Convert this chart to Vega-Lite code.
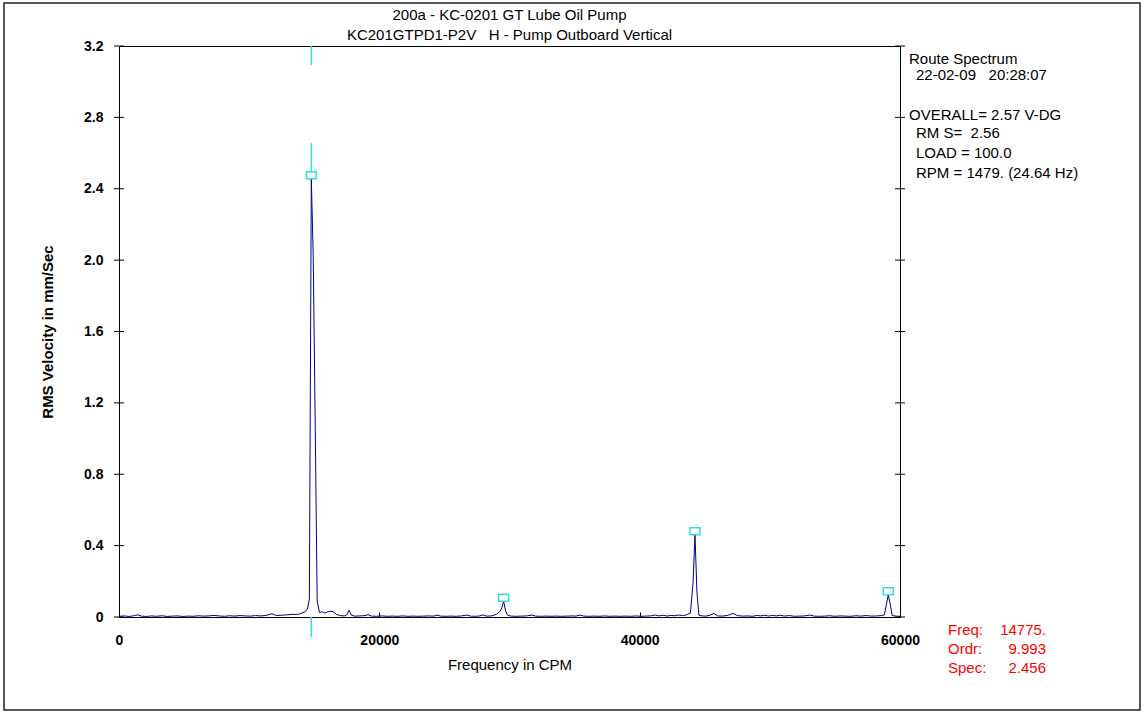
{
  "$schema": "https://vega.github.io/schema/vega-lite/v6.json",
  "width": 781,
  "height": 571,
  "autosize": {"type": "none"},
  "padding": {"left": 119, "top": 46, "right": 245, "bottom": 97},
  "background": "white",
  "config": {
    "view": {"stroke": "#000", "strokeWidth": 1},
    "font": "Liberation Sans"
  },
  "title": {
    "text": ["200a - KC-0201 GT Lube Oil Pump", "KC201GTPD1-P2V\u00a0\u00a0 H - Pump Outboard Vertical"],
    "fontSize": 15,
    "fontWeight": "normal",
    "font": "Liberation Sans",
    "lineHeight": 20,
    "offset": 6,
    "dy": 47,
    "anchor": "middle",
    "frame": "group",
    "color": "#000"
  },
  "datasets": {
    "spectrum": [
      {"f": 0, "v": 0.004}, {"f": 400, "v": 0.006}, {"f": 800, "v": 0.003}, {"f": 1200, "v": 0.008},
      {"f": 1460, "v": 0.012}, {"f": 1700, "v": 0.005}, {"f": 2100, "v": 0.003}, {"f": 2500, "v": 0.006},
      {"f": 2900, "v": 0.004}, {"f": 3300, "v": 0.007}, {"f": 3700, "v": 0.003}, {"f": 4100, "v": 0.005},
      {"f": 4500, "v": 0.006}, {"f": 4900, "v": 0.003}, {"f": 5300, "v": 0.005}, {"f": 5700, "v": 0.004},
      {"f": 6100, "v": 0.007}, {"f": 6500, "v": 0.005}, {"f": 6900, "v": 0.006}, {"f": 7300, "v": 0.009},
      {"f": 7700, "v": 0.006}, {"f": 8100, "v": 0.004}, {"f": 8500, "v": 0.007}, {"f": 8900, "v": 0.005},
      {"f": 9300, "v": 0.008}, {"f": 9700, "v": 0.006}, {"f": 10100, "v": 0.005}, {"f": 10500, "v": 0.008},
      {"f": 10900, "v": 0.006}, {"f": 11300, "v": 0.009}, {"f": 11750, "v": 0.018}, {"f": 12100, "v": 0.008},
      {"f": 12500, "v": 0.01}, {"f": 12900, "v": 0.012}, {"f": 13300, "v": 0.015}, {"f": 13700, "v": 0.014},
      {"f": 14000, "v": 0.02}, {"f": 14300, "v": 0.03}, {"f": 14475, "v": 0.045}, {"f": 14625, "v": 0.1},
      {"f": 14775, "v": 2.456}, {"f": 14925, "v": 2.01}, {"f": 15075, "v": 1.07}, {"f": 15225, "v": 0.09},
      {"f": 15400, "v": 0.025}, {"f": 15600, "v": 0.03}, {"f": 15800, "v": 0.022}, {"f": 16000, "v": 0.028},
      {"f": 16200, "v": 0.032}, {"f": 16450, "v": 0.03}, {"f": 16700, "v": 0.015}, {"f": 17000, "v": 0.008},
      {"f": 17300, "v": 0.006}, {"f": 17500, "v": 0.012}, {"f": 17670, "v": 0.038}, {"f": 17850, "v": 0.01},
      {"f": 18100, "v": 0.005}, {"f": 18500, "v": 0.006}, {"f": 18900, "v": 0.008}, {"f": 19130, "v": 0.013},
      {"f": 19400, "v": 0.005}, {"f": 19800, "v": 0.004}, {"f": 20200, "v": 0.006}, {"f": 20600, "v": 0.004},
      {"f": 21000, "v": 0.005}, {"f": 21400, "v": 0.004}, {"f": 21800, "v": 0.006}, {"f": 22200, "v": 0.004},
      {"f": 22600, "v": 0.005}, {"f": 23000, "v": 0.004}, {"f": 23400, "v": 0.005}, {"f": 23800, "v": 0.006},
      {"f": 24200, "v": 0.005}, {"f": 24430, "v": 0.011}, {"f": 24700, "v": 0.005}, {"f": 25100, "v": 0.004},
      {"f": 25500, "v": 0.005}, {"f": 25900, "v": 0.004}, {"f": 26300, "v": 0.006}, {"f": 26730, "v": 0.011},
      {"f": 27000, "v": 0.005}, {"f": 27400, "v": 0.004}, {"f": 27700, "v": 0.006}, {"f": 27960, "v": 0.012},
      {"f": 28200, "v": 0.005}, {"f": 28600, "v": 0.006}, {"f": 29000, "v": 0.015}, {"f": 29250, "v": 0.03},
      {"f": 29400, "v": 0.05}, {"f": 29550, "v": 0.088}, {"f": 29700, "v": 0.035}, {"f": 29850, "v": 0.01},
      {"f": 30100, "v": 0.005}, {"f": 30500, "v": 0.004}, {"f": 30900, "v": 0.005}, {"f": 31300, "v": 0.006},
      {"f": 31730, "v": 0.011}, {"f": 32000, "v": 0.005}, {"f": 32400, "v": 0.004}, {"f": 32800, "v": 0.005},
      {"f": 33200, "v": 0.004}, {"f": 33600, "v": 0.005}, {"f": 34000, "v": 0.004}, {"f": 34400, "v": 0.005},
      {"f": 34800, "v": 0.006}, {"f": 35100, "v": 0.005}, {"f": 35410, "v": 0.011}, {"f": 35700, "v": 0.005},
      {"f": 36100, "v": 0.004}, {"f": 36500, "v": 0.005}, {"f": 36900, "v": 0.004}, {"f": 37300, "v": 0.006},
      {"f": 37700, "v": 0.004}, {"f": 38100, "v": 0.005}, {"f": 38500, "v": 0.004}, {"f": 38900, "v": 0.005},
      {"f": 39300, "v": 0.004}, {"f": 39700, "v": 0.006}, {"f": 40100, "v": 0.004}, {"f": 40500, "v": 0.005},
      {"f": 40900, "v": 0.007}, {"f": 41200, "v": 0.011}, {"f": 41500, "v": 0.006}, {"f": 41800, "v": 0.01},
      {"f": 42100, "v": 0.005}, {"f": 42400, "v": 0.009}, {"f": 42700, "v": 0.007}, {"f": 43000, "v": 0.011},
      {"f": 43300, "v": 0.008}, {"f": 43600, "v": 0.012}, {"f": 43900, "v": 0.022}, {"f": 44100, "v": 0.19},
      {"f": 44250, "v": 0.46}, {"f": 44400, "v": 0.14}, {"f": 44550, "v": 0.01}, {"f": 44800, "v": 0.006},
      {"f": 45100, "v": 0.005}, {"f": 45400, "v": 0.01}, {"f": 45700, "v": 0.02}, {"f": 46000, "v": 0.006},
      {"f": 46400, "v": 0.005}, {"f": 46800, "v": 0.01}, {"f": 47170, "v": 0.02}, {"f": 47500, "v": 0.008},
      {"f": 47900, "v": 0.005}, {"f": 48300, "v": 0.006}, {"f": 48700, "v": 0.004}, {"f": 49000, "v": 0.009},
      {"f": 49300, "v": 0.006}, {"f": 49600, "v": 0.01}, {"f": 49900, "v": 0.005}, {"f": 50200, "v": 0.009},
      {"f": 50500, "v": 0.006}, {"f": 50800, "v": 0.01}, {"f": 51100, "v": 0.005}, {"f": 51500, "v": 0.008},
      {"f": 51900, "v": 0.004}, {"f": 52300, "v": 0.005}, {"f": 52700, "v": 0.006}, {"f": 53080, "v": 0.011},
      {"f": 53400, "v": 0.005}, {"f": 53800, "v": 0.004}, {"f": 54200, "v": 0.005}, {"f": 54600, "v": 0.007},
      {"f": 55000, "v": 0.004}, {"f": 55400, "v": 0.006}, {"f": 55800, "v": 0.005}, {"f": 56200, "v": 0.004},
      {"f": 56600, "v": 0.007}, {"f": 57000, "v": 0.005}, {"f": 57400, "v": 0.008}, {"f": 57800, "v": 0.005},
      {"f": 58200, "v": 0.006}, {"f": 58600, "v": 0.008}, {"f": 58800, "v": 0.012}, {"f": 58950, "v": 0.07},
      {"f": 59100, "v": 0.124}, {"f": 59250, "v": 0.07}, {"f": 59400, "v": 0.008}, {"f": 59700, "v": 0.005},
      {"f": 60000, "v": 0.004}
    ],
    "markers": [
      {"f": 14775, "v": 2.476},
      {"f": 29550, "v": 0.108},
      {"f": 44250, "v": 0.48},
      {"f": 59100, "v": 0.144}
    ],
    "cursor": [
      {"f": 14775, "v": 3.2, "v2": 3.093},
      {"f": 14775, "v": 2.656, "v2": 2.49},
      {"f": 14775, "v": 0, "v2": -0.112}
    ],
    "yticks": [
      {"t": 0}, {"t": 0.4}, {"t": 0.8}, {"t": 1.2}, {"t": 1.6}, {"t": 2}, {"t": 2.4}, {"t": 2.8}, {"t": 3.2}
    ]
  },
  "layer": [
    {
      "data": {"name": "spectrum"},
      "mark": {"type": "line", "color": "#000088", "strokeWidth": 1, "interpolate": "linear"},
      "encoding": {
        "x": {
          "field": "f",
          "type": "quantitative",
          "scale": {"domain": [0, 60000], "nice": false, "zero": true},
          "axis": {
            "title": "Frequency in CPM",
            "values": [0, 20000, 40000, 60000],
            "format": "d",
            "labelFont": "Liberation Sans",
            "labelFontSize": 14,
            "labelFontWeight": "bold",
            "labelColor": "#000",
            "labelFlush": false,
            "labelOverlap": false,
            "labelDx": -8,
            "labelPadding": 21,
            "tickSize": -5,
            "tickColor": "#000",
            "tickWidth": 1,
            "domain": false,
            "grid": false,
            "titleFont": "Liberation Sans",
            "titleFontSize": 15,
            "titleFontWeight": "normal",
            "titleColor": "#000",
            "titlePadding": 10
          }
        },
        "y": {
          "field": "v",
          "type": "quantitative",
          "scale": {"domain": [0, 3.2], "nice": false, "zero": true},
          "axis": {
            "title": "RMS Velocity in mm/Sec",
            "values": [0, 0.4, 0.8, 1.2, 1.6, 2, 2.4, 2.8, 3.2],
            "labelExpr": "datum.value == 0 ? '0' : format(datum.value, '.1f')",
            "labelFont": "Liberation Sans",
            "labelFontSize": 14,
            "labelFontWeight": "bold",
            "labelColor": "#000",
            "labelPadding": 16,
            "labelFlush": false,
            "labelOverlap": false,
            "ticks": false,
            "domain": false,
            "grid": false,
            "titleFont": "Liberation Sans",
            "titleFontSize": 15,
            "titleFontWeight": "bold",
            "titleColor": "#000",
            "titlePadding": 28
          }
        }
      }
    },
    {
      "data": {"values": [{}]},
      "mark": {"type": "rect", "filled": false, "stroke": "#222", "strokeWidth": 1.5, "clip": false},
      "encoding": {
        "x": {"datum": -8835, "type": "quantitative"},
        "x2": {"datum": 78438},
        "y": {"datum": 3.441, "type": "quantitative"},
        "y2": {"datum": -0.521}
      }
    },
    {
      "data": {"name": "cursor"},
      "mark": {"type": "rule", "color": "#33dddd", "strokeWidth": 1.5, "clip": false},
      "encoding": {
        "x": {"field": "f", "type": "quantitative"},
        "y": {"field": "v", "type": "quantitative"},
        "y2": {"field": "v2"}
      }
    },
    {
      "data": {"name": "markers"},
      "mark": {"type": "point", "shape": "M-1,-0.7L1,-0.7L1,0.7L-1,0.7Z", "size": 100, "filled": false, "stroke": "#33dddd", "strokeWidth": 1.5, "opacity": 1},
      "encoding": {
        "x": {"field": "f", "type": "quantitative"},
        "y": {"field": "v", "type": "quantitative"}
      }
    },
    {
      "data": {"name": "yticks"},
      "mark": {"type": "tick", "orient": "horizontal", "size": 10, "thickness": 1, "color": "#000", "opacity": 1},
      "encoding": {
        "x": {"datum": 0, "type": "quantitative"},
        "y": {"field": "t", "type": "quantitative"}
      }
    },
    {
      "data": {"name": "yticks"},
      "mark": {"type": "tick", "orient": "horizontal", "size": 10, "thickness": 1, "color": "#000", "opacity": 1},
      "encoding": {
        "x": {"datum": 60000, "type": "quantitative"},
        "y": {"field": "t", "type": "quantitative"}
      }
    },
    {
      "data": {"values": [{}]},
      "mark": {"type": "text", "align": "left", "baseline": "top", "font": "Liberation Sans", "fontSize": 15, "color": "#000", "clip": false, "text": "Route Spectrum"},
      "encoding": {
        "x": {"datum": 60691, "type": "quantitative"},
        "y": {"datum": 3.169, "type": "quantitative"}
      }
    },
    {
      "data": {"values": [{}]},
      "mark": {"type": "text", "align": "left", "baseline": "top", "font": "Liberation Sans", "fontSize": 15, "color": "#000", "clip": false, "text": "22-02-09\u00a0\u00a0\u00a020:28:07"},
      "encoding": {
        "x": {"datum": 61229, "type": "quantitative"},
        "y": {"datum": 3.074, "type": "quantitative"}
      }
    },
    {
      "data": {"values": [{}]},
      "mark": {"type": "text", "align": "left", "baseline": "top", "font": "Liberation Sans", "fontSize": 15, "color": "#000", "clip": false, "text": "OVERALL= 2.57 V-DG"},
      "encoding": {
        "x": {"datum": 60691, "type": "quantitative"},
        "y": {"datum": 2.85, "type": "quantitative"}
      }
    },
    {
      "data": {"values": [{}]},
      "mark": {"type": "text", "align": "left", "baseline": "top", "font": "Liberation Sans", "fontSize": 15, "lineHeight": 20, "color": "#000", "clip": false, "text": ["RM S=\u00a0 2.56", "LOAD = 100.0", "RPM = 1479. (24.64 Hz)"]},
      "encoding": {
        "x": {"datum": 61229, "type": "quantitative"},
        "y": {"datum": 2.749, "type": "quantitative"}
      }
    },
    {
      "data": {"values": [{}]},
      "mark": {"type": "text", "align": "left", "baseline": "top", "font": "Liberation Sans", "fontSize": 15, "lineHeight": 19, "color": "#ff0000", "clip": false, "text": ["Freq:", "Ordr:", "Spec:"]},
      "encoding": {
        "x": {"datum": 63688, "type": "quantitative"},
        "y": {"datum": -0.036, "type": "quantitative"}
      }
    },
    {
      "data": {"values": [{}]},
      "mark": {"type": "text", "align": "right", "baseline": "top", "font": "Liberation Sans", "fontSize": 15, "lineHeight": 19, "color": "#ff0000", "clip": false, "text": ["14775.", "9.993", "2.456"]},
      "encoding": {
        "x": {"datum": 71218, "type": "quantitative"},
        "y": {"datum": -0.036, "type": "quantitative"}
      }
    }
  ]
}
